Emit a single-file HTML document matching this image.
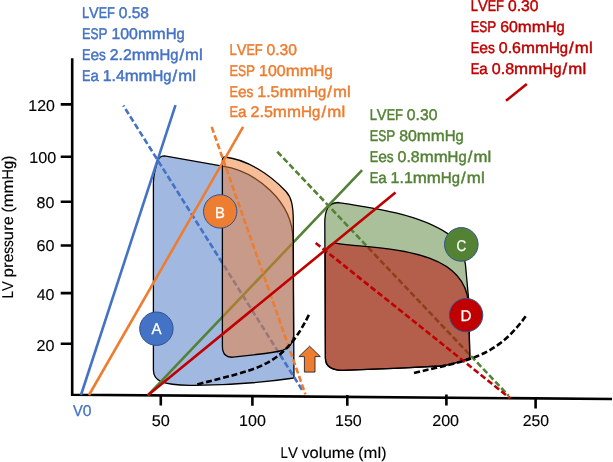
<!DOCTYPE html>
<html><head><meta charset="utf-8"><style>
html,body{margin:0;padding:0;background:#fff;}
svg{display:block;}
text{font-family:"Liberation Sans",sans-serif;paint-order:stroke;text-rendering:geometricPrecision;}
</style></head><body>
<svg style="will-change:transform" width="613" height="462" viewBox="0 0 613 462">
<!-- axes -->
<g stroke="#000" stroke-width="2.6" fill="none">
<path d="M72.2,58.2 L72.2,394.7 L612,399" stroke-linejoin="miter"/>
<path d="M60.7,104.4H72 M60.7,156.8H72 M60.7,201.8H72 M60.7,245.5H72 M60.7,293.1H72 M60.7,343.8H72"/>
<path d="M160.8,395V405.5 M252.4,395.5V405.7 M347.3,394.9V405.7 M446.4,394.5V405.6 M535.6,397V408.6"/>
</g>
<g font-size="15.6" fill="#000" stroke="#000" style="stroke-width:0.15px">
<text transform="translate(28.29,111.4) scale(1.019,1)">1</text>
<text transform="translate(37.13,111.4) scale(1.019,1)">2</text>
<text transform="translate(45.98,111.4) scale(1.019,1)">0</text>
<text transform="translate(29.17,163.4) scale(1.036,1)">1</text>
<text transform="translate(38.16,163.4) scale(1.036,1)">0</text>
<text transform="translate(47.14,163.4) scale(1.036,1)">0</text>
<text transform="translate(36.60,208.3) scale(1.027,1)">8</text>
<text transform="translate(45.51,208.3) scale(1.027,1)">0</text>
<text transform="translate(36.48,251.2) scale(1.034,1)">6</text>
<text transform="translate(45.46,251.2) scale(1.034,1)">0</text>
<text transform="translate(36.63,299.7) scale(1.025,1)">4</text>
<text transform="translate(45.53,299.7) scale(1.025,1)">0</text>
<text transform="translate(36.49,351.1) scale(1.034,1)">2</text>
<text transform="translate(45.46,351.1) scale(1.034,1)">0</text>
<text transform="translate(151.65,426.1) scale(1.042,1)">5</text>
<text transform="translate(160.69,426.1) scale(1.042,1)">0</text>
<text transform="translate(239.08,426.1) scale(1.028,1)">1</text>
<text transform="translate(247.99,426.1) scale(1.028,1)">0</text>
<text transform="translate(256.91,426.1) scale(1.028,1)">0</text>
<text transform="translate(334.98,426.1) scale(1.028,1)">1</text>
<text transform="translate(343.89,426.1) scale(1.028,1)">5</text>
<text transform="translate(352.81,426.1) scale(1.028,1)">0</text>
<text transform="translate(432.19,426.1) scale(1.031,1)">2</text>
<text transform="translate(441.14,426.1) scale(1.031,1)">0</text>
<text transform="translate(450.08,426.1) scale(1.031,1)">0</text>
<text transform="translate(522.71,426.1) scale(1.011,1)">2</text>
<text transform="translate(531.48,426.1) scale(1.011,1)">5</text>
<text transform="translate(540.25,426.1) scale(1.011,1)">0</text>
<text transform="translate(280.62,458) scale(0.841,1)">L</text>
<text transform="translate(287.92,458) scale(0.946,1)">V</text>
<text transform="translate(301.69,458) scale(1.005,1)">v</text>
<text transform="translate(309.53,458) scale(1.055,1)">o</text>
<text transform="translate(318.80,458) scale(1.080,1)">l</text>
<text transform="translate(322.67,458) scale(1.051,1)">u</text>
<text transform="translate(331.78,458) scale(1.067,1)">m</text>
<text transform="translate(345.65,458) scale(0.995,1)">e</text>
<text transform="translate(358.21,458) scale(1.013,1)">(</text>
<text transform="translate(363.47,458) scale(1.067,1)">m</text>
<text transform="translate(377.45,458) scale(1.080,1)">l</text>
<text transform="translate(381.32,458) scale(1.013,1)">)</text>
</g>
<g font-size="15.6" fill="#4472C4" stroke="#4472C4" style="stroke-width:0.3px">
<text transform="translate(72.94,416.2) scale(0.938,1)">V</text>
<text transform="translate(82.69,416.2) scale(1.005,1)">0</text>
</g>
<g font-size="15.6" fill="#000" stroke="#000" style="stroke-width:0.15px" transform="translate(12.5,297.2) rotate(-90)">
<text transform="translate(-1.07,0) scale(0.836,1)">L</text>
<text transform="translate(6.19,0) scale(0.941,1)">V</text>
<text transform="translate(19.88,0) scale(1.045,1)">p</text>
<text transform="translate(29.16,0) scale(1.080,1)">r</text>
<text transform="translate(34.97,0) scale(0.990,1)">e</text>
<text transform="translate(43.56,0) scale(0.866,1)">s</text>
<text transform="translate(50.31,0) scale(0.866,1)">s</text>
<text transform="translate(57.06,0) scale(1.045,1)">u</text>
<text transform="translate(66.34,0) scale(1.080,1)">r</text>
<text transform="translate(72.15,0) scale(0.990,1)">e</text>
<text transform="translate(84.64,0) scale(1.008,1)">(</text>
<text transform="translate(89.88,0) scale(1.061,1)">m</text>
<text transform="translate(103.67,0) scale(1.061,1)">m</text>
<text transform="translate(117.46,0) scale(0.955,1)">H</text>
<text transform="translate(128.21,0) scale(0.937,1)">g</text>
<text transform="translate(136.34,0) scale(1.008,1)">)</text>
</g>

<!-- Loop A -->
<path d="M153.4,182 C153.6,176 156,166 158,160 Q159.6,156 164.5,155.8 L222.5,166.2 C256.12,171.27 293,201.39 293,240 L294,378 C260,383 220,385.5 190,385.3 C162,385 153.4,381 153.4,370 Z" fill="#4472C4" fill-opacity="0.5" stroke="#000" stroke-width="1.3"/>
<!-- blue lines -->
<g stroke="#4472C4" stroke-width="2.6" fill="none">
<line x1="81" y1="395" x2="175.5" y2="105.2"/>
<line x1="123.3" y1="105.5" x2="303.2" y2="391.6" stroke-dasharray="6 2.8" stroke-dashoffset="4.7"/>
</g>
<!-- Loop C -->
<path d="M324.8,225 C324.5,210 328,202.8 338,202.5 C372.15,207.54 418.73,214.09 447.7,233.6 C458,241 464,252 465.5,265 L468.5,298 L469.8,355.5 Q469.8,357.5 469,358 C462,361.5 452,364.5 440,366 L400,368.1 L342,370.3 Q325.4,370 325.4,358 Z" fill="#548235" fill-opacity="0.5" stroke="#000" stroke-width="1.3"/>
<!-- green lines -->
<g stroke="#548235" stroke-width="2.6" fill="none">
<line x1="147.8" y1="395.3" x2="362.1" y2="170.2"/>
<line x1="277.3" y1="151.7" x2="508.7" y2="395.8" stroke-dasharray="6 2.8"/>
</g>
<!-- Loop B -->
<path d="M222.4,160.5 Q222.4,157 225.2,157 C248.14,159.89 270.03,174.74 285.8,191.2 C291.3,197 293.3,205 293.3,222 L293.6,336 Q293,347 282,350.5 Q276,352 265,353.5 L233,357.2 Q222.4,358 222.4,346 Z" fill="#ED7D31" fill-opacity="0.5" stroke="#000" stroke-width="1.3"/>
<!-- Loop D -->
<path d="M325.2,255 Q326,244.5 335.4,243.1 C376.52,249.95 463.18,245.53 468.3,302 L469.8,355.5 Q469.8,357.5 469,358 C462,361.5 452,364.5 440,366 L400,368.1 L342,370.3 Q325.4,370 325.4,358 Z" fill="#C00000" fill-opacity="0.5" stroke="#000" stroke-width="1.3"/>
<!-- orange lines -->
<g stroke="#ED7D31" stroke-width="2.6" fill="none">
<line x1="89" y1="395" x2="243.1" y2="126.9"/>
<line x1="211.7" y1="126.9" x2="305.4" y2="394.3" stroke-dasharray="6 2.8"/>
</g>
<!-- red lines -->
<g stroke="#C00000" stroke-width="2.6" fill="none">
<line x1="147.8" y1="395.3" x2="395.5" y2="192.6"/>
<line x1="506" y1="100.8" x2="526.8" y2="84.1"/>
<line x1="315.7" y1="242.9" x2="510.3" y2="398.5" stroke-dasharray="6 2.8"/>
</g>
<!-- EDPVR -->
<g stroke="#000" stroke-width="2.6" fill="none" stroke-dasharray="6 2.8">
<path d="M197.3,384.5 C252.62,369.09 282.16,370.24 309.2,314.1"/>
<path d="M414,373.1 C463.31,360.35 494.84,360.81 527.2,314.1"/>
</g>
<!-- arrow -->
<path d="M309.6,346.2 L320.3,356.6 L315,356.6 L315,372.1 L304.4,372.1 L304.4,356.6 L298.9,356.6 Z" fill="#ED7D31" stroke="#262626" stroke-width="0.9" stroke-linejoin="miter"/>
<!-- circles -->
<g stroke="#2F528F" stroke-width="1">
<circle cx="156.4" cy="328.7" r="16.7" fill="#4472C4"/>
<circle cx="220.2" cy="211.4" r="16.7" fill="#ED7D31"/>
<circle cx="461.3" cy="244.4" r="16.8" fill="#548235"/>
<circle cx="466.1" cy="315.1" r="16.7" fill="#C00000"/>
</g>
<g font-size="15.5" fill="#fff" stroke="#fff" stroke-width="0.25">
<text lengthAdjust="spacingAndGlyphs" x="151.57" y="334.1" textLength="10.06">A</text>
<text lengthAdjust="spacingAndGlyphs" x="214.88" y="217.5" textLength="9.9">B</text>
<text lengthAdjust="spacingAndGlyphs" x="456.62" y="250.5" textLength="9.69">C</text>
<text lengthAdjust="spacingAndGlyphs" x="460.55" y="321" textLength="10.97">D</text>
</g>
<!-- annotations -->
<g style="stroke-width:0.45px">
<g font-size="15.6" fill="#4472C4" stroke="#4472C4">
<text transform="translate(81.94,17.7) scale(0.826,1)">L</text>
<text transform="translate(89.11,17.7) scale(0.929,1)">V</text>
<text transform="translate(98.77,17.7) scale(0.799,1)">E</text>
<text transform="translate(107.09,17.7) scale(0.821,1)">F</text>
<text transform="translate(118.77,17.7) scale(0.995,1)">0</text>
<text transform="translate(127.40,17.7) scale(0.992,1)">.</text>
<text transform="translate(131.71,17.7) scale(0.995,1)">5</text>
<text transform="translate(140.34,17.7) scale(0.995,1)">8</text>
<text transform="translate(81.95,38.8) scale(0.817,1)">E</text>
<text transform="translate(90.46,38.8) scale(0.769,1)">S</text>
<text transform="translate(98.46,38.8) scale(0.865,1)">P</text>
<text transform="translate(111.39,38.8) scale(1.017,1)">1</text>
<text transform="translate(120.22,38.8) scale(1.017,1)">0</text>
<text transform="translate(129.05,38.8) scale(1.017,1)">0</text>
<text transform="translate(137.88,38.8) scale(1.071,1)">m</text>
<text transform="translate(151.79,38.8) scale(1.071,1)">m</text>
<text transform="translate(165.70,38.8) scale(0.963,1)">H</text>
<text transform="translate(176.55,38.8) scale(0.945,1)">g</text>
<text transform="translate(81.96,59.7) scale(0.814,1)">E</text>
<text transform="translate(90.43,59.7) scale(0.995,1)">e</text>
<text transform="translate(99.06,59.7) scale(0.870,1)">s</text>
<text transform="translate(109.76,59.7) scale(1.013,1)">2</text>
<text transform="translate(118.55,59.7) scale(1.010,1)">.</text>
<text transform="translate(122.93,59.7) scale(1.013,1)">2</text>
<text transform="translate(131.72,59.7) scale(1.066,1)">m</text>
<text transform="translate(145.58,59.7) scale(1.066,1)">m</text>
<text transform="translate(159.43,59.7) scale(0.959,1)">H</text>
<text transform="translate(170.24,59.7) scale(0.941,1)">g</text>
<text transform="translate(179.42,59.7) scale(1.080,1)">/</text>
<text transform="translate(185.11,59.7) scale(1.066,1)">m</text>
<text transform="translate(199.08,59.7) scale(1.080,1)">l</text>
<text transform="translate(81.96,80.6) scale(0.816,1)">E</text>
<text transform="translate(90.45,80.6) scale(0.960,1)">a</text>
<text transform="translate(102.71,80.6) scale(1.016,1)">1</text>
<text transform="translate(111.53,80.6) scale(1.013,1)">.</text>
<text transform="translate(115.92,80.6) scale(1.016,1)">4</text>
<text transform="translate(124.73,80.6) scale(1.069,1)">m</text>
<text transform="translate(138.62,80.6) scale(1.069,1)">m</text>
<text transform="translate(152.52,80.6) scale(0.962,1)">H</text>
<text transform="translate(163.35,80.6) scale(0.944,1)">g</text>
<text transform="translate(172.56,80.6) scale(1.080,1)">/</text>
<text transform="translate(178.27,80.6) scale(1.069,1)">m</text>
<text transform="translate(192.28,80.6) scale(1.080,1)">l</text>
</g>
<g font-size="15.6" fill="#ED7D31" stroke="#ED7D31">
<text transform="translate(229.43,54.7) scale(0.832,1)">L</text>
<text transform="translate(236.66,54.7) scale(0.937,1)">V</text>
<text transform="translate(246.40,54.7) scale(0.806,1)">E</text>
<text transform="translate(254.79,54.7) scale(0.828,1)">F</text>
<text transform="translate(266.56,54.7) scale(1.003,1)">0</text>
<text transform="translate(275.27,54.7) scale(1.000,1)">.</text>
<text transform="translate(279.60,54.7) scale(1.003,1)">3</text>
<text transform="translate(288.31,54.7) scale(1.003,1)">0</text>
<text transform="translate(229.45,75.6) scale(0.821,1)">E</text>
<text transform="translate(238.00,75.6) scale(0.773,1)">S</text>
<text transform="translate(246.04,75.6) scale(0.869,1)">P</text>
<text transform="translate(259.04,75.6) scale(1.022,1)">1</text>
<text transform="translate(267.91,75.6) scale(1.022,1)">0</text>
<text transform="translate(276.78,75.6) scale(1.022,1)">0</text>
<text transform="translate(285.65,75.6) scale(1.076,1)">m</text>
<text transform="translate(299.63,75.6) scale(1.076,1)">m</text>
<text transform="translate(313.61,75.6) scale(0.968,1)">H</text>
<text transform="translate(324.52,75.6) scale(0.950,1)">g</text>
<text transform="translate(229.45,96.5) scale(0.817,1)">E</text>
<text transform="translate(237.95,96.5) scale(0.998,1)">e</text>
<text transform="translate(246.61,96.5) scale(0.873,1)">s</text>
<text transform="translate(257.35,96.5) scale(1.017,1)">1</text>
<text transform="translate(266.17,96.5) scale(1.014,1)">.</text>
<text transform="translate(270.57,96.5) scale(1.017,1)">5</text>
<text transform="translate(279.39,96.5) scale(1.070,1)">m</text>
<text transform="translate(293.29,96.5) scale(1.070,1)">m</text>
<text transform="translate(307.19,96.5) scale(0.962,1)">H</text>
<text transform="translate(318.03,96.5) scale(0.944,1)">g</text>
<text transform="translate(327.25,96.5) scale(1.080,1)">/</text>
<text transform="translate(332.96,96.5) scale(1.070,1)">m</text>
<text transform="translate(346.98,96.5) scale(1.080,1)">l</text>
<text transform="translate(229.44,117.1) scale(0.828,1)">E</text>
<text transform="translate(238.06,117.1) scale(0.974,1)">a</text>
<text transform="translate(250.49,117.1) scale(1.031,1)">2</text>
<text transform="translate(259.44,117.1) scale(1.028,1)">.</text>
<text transform="translate(263.89,117.1) scale(1.031,1)">5</text>
<text transform="translate(272.86,117.1) scale(1.080,1)">m</text>
<text transform="translate(286.95,117.1) scale(1.080,1)">m</text>
<text transform="translate(301.02,117.1) scale(0.976,1)">H</text>
<text transform="translate(312.01,117.1) scale(0.957,1)">g</text>
<text transform="translate(321.39,117.1) scale(1.080,1)">/</text>
<text transform="translate(327.17,117.1) scale(1.080,1)">m</text>
<text transform="translate(341.38,117.1) scale(1.080,1)">l</text>
</g>
<g font-size="15.6" fill="#548235" stroke="#548235">
<text transform="translate(369.63,120.2) scale(0.835,1)">L</text>
<text transform="translate(376.87,120.2) scale(0.939,1)">V</text>
<text transform="translate(386.65,120.2) scale(0.808,1)">E</text>
<text transform="translate(395.06,120.2) scale(0.831,1)">F</text>
<text transform="translate(406.87,120.2) scale(1.006,1)">0</text>
<text transform="translate(415.60,120.2) scale(1.003,1)">.</text>
<text transform="translate(419.95,120.2) scale(1.006,1)">3</text>
<text transform="translate(428.68,120.2) scale(1.006,1)">0</text>
<text transform="translate(369.65,141.1) scale(0.818,1)">E</text>
<text transform="translate(378.17,141.1) scale(0.770,1)">S</text>
<text transform="translate(386.18,141.1) scale(0.866,1)">P</text>
<text transform="translate(399.13,141.1) scale(1.019,1)">8</text>
<text transform="translate(407.97,141.1) scale(1.019,1)">0</text>
<text transform="translate(416.81,141.1) scale(1.072,1)">m</text>
<text transform="translate(430.74,141.1) scale(1.072,1)">m</text>
<text transform="translate(444.68,141.1) scale(0.965,1)">H</text>
<text transform="translate(455.54,141.1) scale(0.946,1)">g</text>
<text transform="translate(369.65,162) scale(0.819,1)">E</text>
<text transform="translate(378.17,162) scale(1.001,1)">e</text>
<text transform="translate(386.85,162) scale(0.875,1)">s</text>
<text transform="translate(397.62,162) scale(1.019,1)">0</text>
<text transform="translate(406.46,162) scale(1.016,1)">.</text>
<text transform="translate(410.87,162) scale(1.019,1)">8</text>
<text transform="translate(419.71,162) scale(1.073,1)">m</text>
<text transform="translate(433.65,162) scale(1.073,1)">m</text>
<text transform="translate(447.59,162) scale(0.965,1)">H</text>
<text transform="translate(458.46,162) scale(0.947,1)">g</text>
<text transform="translate(467.70,162) scale(1.080,1)">/</text>
<text transform="translate(473.42,162) scale(1.073,1)">m</text>
<text transform="translate(487.48,162) scale(1.080,1)">l</text>
<text transform="translate(369.65,182.7) scale(0.823,1)">E</text>
<text transform="translate(378.21,182.7) scale(0.968,1)">a</text>
<text transform="translate(390.57,182.7) scale(1.024,1)">1</text>
<text transform="translate(399.46,182.7) scale(1.021,1)">.</text>
<text transform="translate(403.88,182.7) scale(1.024,1)">1</text>
<text transform="translate(412.77,182.7) scale(1.078,1)">m</text>
<text transform="translate(426.77,182.7) scale(1.078,1)">m</text>
<text transform="translate(440.78,182.7) scale(0.970,1)">H</text>
<text transform="translate(451.70,182.7) scale(0.951,1)">g</text>
<text transform="translate(461.01,182.7) scale(1.080,1)">/</text>
<text transform="translate(466.74,182.7) scale(1.078,1)">m</text>
<text transform="translate(480.88,182.7) scale(1.080,1)">l</text>
</g>
<g font-size="15.6" fill="#C00000" stroke="#C00000">
<text transform="translate(470.73,11) scale(0.834,1)">L</text>
<text transform="translate(477.96,11) scale(0.938,1)">V</text>
<text transform="translate(487.72,11) scale(0.807,1)">E</text>
<text transform="translate(496.12,11) scale(0.829,1)">F</text>
<text transform="translate(507.92,11) scale(1.005,1)">0</text>
<text transform="translate(516.63,11) scale(1.002,1)">.</text>
<text transform="translate(520.98,11) scale(1.005,1)">3</text>
<text transform="translate(529.69,11) scale(1.005,1)">0</text>
<text transform="translate(470.75,32) scale(0.818,1)">E</text>
<text transform="translate(479.26,32) scale(0.769,1)">S</text>
<text transform="translate(487.26,32) scale(0.865,1)">P</text>
<text transform="translate(500.20,32) scale(1.018,1)">6</text>
<text transform="translate(509.03,32) scale(1.018,1)">0</text>
<text transform="translate(517.86,32) scale(1.071,1)">m</text>
<text transform="translate(531.78,32) scale(1.071,1)">m</text>
<text transform="translate(545.70,32) scale(0.963,1)">H</text>
<text transform="translate(556.55,32) scale(0.945,1)">g</text>
<text transform="translate(470.75,52.9) scale(0.821,1)">E</text>
<text transform="translate(479.29,52.9) scale(1.003,1)">e</text>
<text transform="translate(487.99,52.9) scale(0.877,1)">s</text>
<text transform="translate(498.79,52.9) scale(1.022,1)">0</text>
<text transform="translate(507.65,52.9) scale(1.019,1)">.</text>
<text transform="translate(512.07,52.9) scale(1.022,1)">6</text>
<text transform="translate(520.93,52.9) scale(1.075,1)">m</text>
<text transform="translate(534.91,52.9) scale(1.075,1)">m</text>
<text transform="translate(548.88,52.9) scale(0.967,1)">H</text>
<text transform="translate(559.78,52.9) scale(0.949,1)">g</text>
<text transform="translate(569.05,52.9) scale(1.080,1)">/</text>
<text transform="translate(574.78,52.9) scale(1.075,1)">m</text>
<text transform="translate(588.88,52.9) scale(1.080,1)">l</text>
<text transform="translate(470.74,73.8) scale(0.826,1)">E</text>
<text transform="translate(479.34,73.8) scale(0.972,1)">a</text>
<text transform="translate(491.76,73.8) scale(1.029,1)">0</text>
<text transform="translate(500.68,73.8) scale(1.026,1)">.</text>
<text transform="translate(505.13,73.8) scale(1.029,1)">8</text>
<text transform="translate(514.07,73.8) scale(1.080,1)">m</text>
<text transform="translate(528.14,73.8) scale(1.080,1)">m</text>
<text transform="translate(542.19,73.8) scale(0.974,1)">H</text>
<text transform="translate(553.17,73.8) scale(0.955,1)">g</text>
<text transform="translate(562.52,73.8) scale(1.080,1)">/</text>
<text transform="translate(568.28,73.8) scale(1.080,1)">m</text>
<text transform="translate(582.48,73.8) scale(1.080,1)">l</text>
</g>
</g>
</svg>
</body></html>
